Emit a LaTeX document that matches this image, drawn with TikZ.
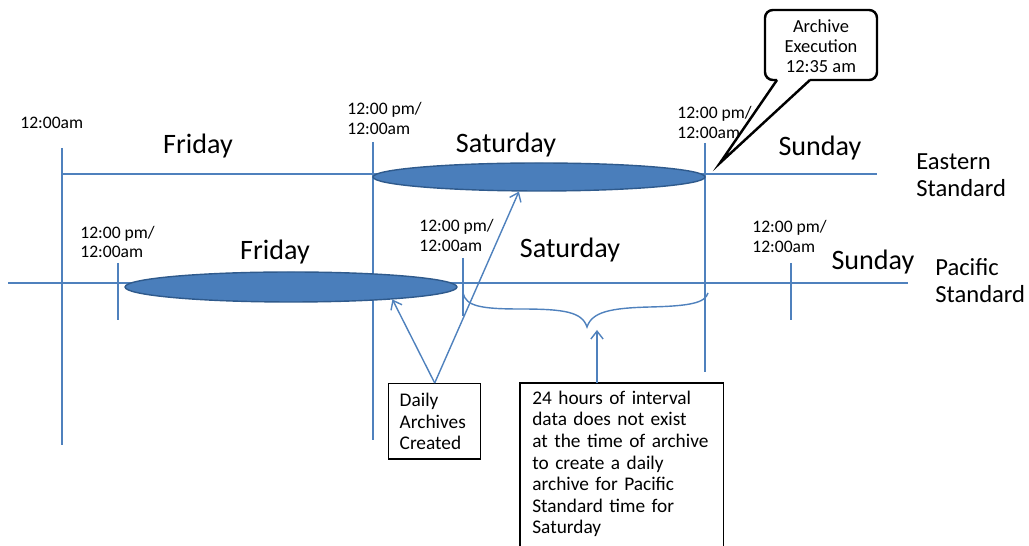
\documentclass[tikz,border=0pt]{standalone}
\usepackage{fontspec}
\setmainfont{Carlito}
\usetikzlibrary{shapes.geometric}
\usetikzlibrary{arrows.meta}
\definecolor{lineblue}{HTML}{4F81BD}
\definecolor{ovalblue}{HTML}{4A7EBB}
\definecolor{ovaledge}{HTML}{2F5A8C}

\begin{document}
\begin{tikzpicture}[x=0.02cm,y=-0.02cm,
  tl/.style={lineblue,line width=0.8pt},
  oval/.style={ellipse,draw=ovaledge,fill=ovalblue,line width=0.8pt,inner sep=0pt,minimum width=6.64cm},
  arr/.style={lineblue,line width=0.8pt,-{Straight Barb[length=4.5pt,width=7pt]}},
  timelbl/.style={font=\fontsize{10}{11.3}\selectfont,align=left,anchor=west,inner sep=0pt},
  daylbl/.style={font=\fontsize{16}{19}\selectfont,anchor=base,inner sep=0pt},
  zonelbl/.style={font=\fontsize{14}{15.3}\selectfont,align=left,anchor=west,inner sep=0pt},
  notebox/.style={draw=black,line width=0.8pt,anchor=north west,align=left,font=\fontsize{11}{12.2}\selectfont,inner xsep=0.22cm,inner ysep=0.19cm},
  gapbox/.style={anchor=north west,align=left,font=\fontsize{11}{12.3}\selectfont,text width=3.58cm,inner xsep=0.24cm,inner ysep=0.15cm},
  boxline/.style={black,line width=0.8pt},
  callout/.style={black,line width=1.4pt}]
\useasboundingbox (0,0) rectangle (1029,546);

\draw[tl] (62,174) -- (877,174);
\draw[tl] (62,148) -- (62,445);
\draw[tl] (373,142) -- (373,440);
\draw[tl] (705,143) -- (705,372);

\draw[tl] (8,283) -- (908,283);
\draw[tl] (118,263) -- (118,320);
\draw[tl] (463,258) -- (463,316);
\draw[tl] (791,263) -- (791,320);

\node[oval,minimum height=0.56cm] (satE) at (539,177) {};
\node[oval,minimum height=0.6cm] (friP) at (291,287) {};

\node[timelbl] (eStart) at (20,123) {12:00am};
\node[timelbl] (eMid) at (347,118.5) {12:00 pm/\\12:00am};
\node[timelbl] (eEnd) at (677,122.5) {12:00 pm/\\12:00am};
\node[timelbl] (pStart) at (80,242) {12:00 pm/\\12:00am};
\node[timelbl] (pMid) at (419,235.5) {12:00 pm/\\12:00am};
\node[timelbl] (pEnd) at (752,236.5) {12:00 pm/\\12:00am};

\node[daylbl] (friE) at (198,154) {Friday};
\node[daylbl] (satElbl) at (506,153) {Saturday};
\node[daylbl] (sunE) at (820,156) {Sunday};
\node[daylbl] (friPlbl) at (275,260) {Friday};
\node[daylbl] (satP) at (570,258) {Saturday};
\node[daylbl] (sunP) at (873,270) {Sunday};

\node[zonelbl] (eastern) at (916,175) {Eastern\\Standard};
\node[zonelbl] (pacific) at (935,280.5) {Pacific\\Standard};

\coordinate (bl) at (463,293);
\coordinate (bc) at (587,327);
\coordinate (br) at (708,293);
\draw[tl] (bl) .. controls (466,306) and (480,309) .. (520,309) .. controls (565,309) and (582,312) .. (bc) .. controls (592,312) and (610,308) .. (650,307) .. controls (690,306) and (705,303) .. (br);

\node[notebox,text width=1.4cm] (daily) at (388,383) {Daily\\Archives\\Created};
\node[gapbox] (gap) at (520,383) {24 hours of interval\\data does not exist\\at the time of archive\\to create a daily\\archive for Pacific\\Standard time for\\Saturday};
\draw[boxline] (gap.north west) ++(0,170) |- (gap.north east) -- ++(0,170);

\draw[arr] (daily.north) -- (friP.353);
\draw[arr] (daily.north) -- (satE.216);
\coordinate (btip) at (597,330);
\draw[arr] (btip |- gap.north) -- (btip);

\node[font=\fontsize{10.5}{11.3}\selectfont,align=center,inner sep=0pt] (exec) at (821,46) {Archive\\Execution\\12:35 am};
\coordinate (exectip) at (720,163);
\fill[white] (777,80) -- (exectip) -- (810,80) -- cycle;
\draw[callout] (777,80) -- (exectip) -- (810,80);
\draw[callout,rounded corners=4.5pt] (777,80) -| (765,10) -| (877,80) -- (810,80);

\end{tikzpicture}
\end{document}
